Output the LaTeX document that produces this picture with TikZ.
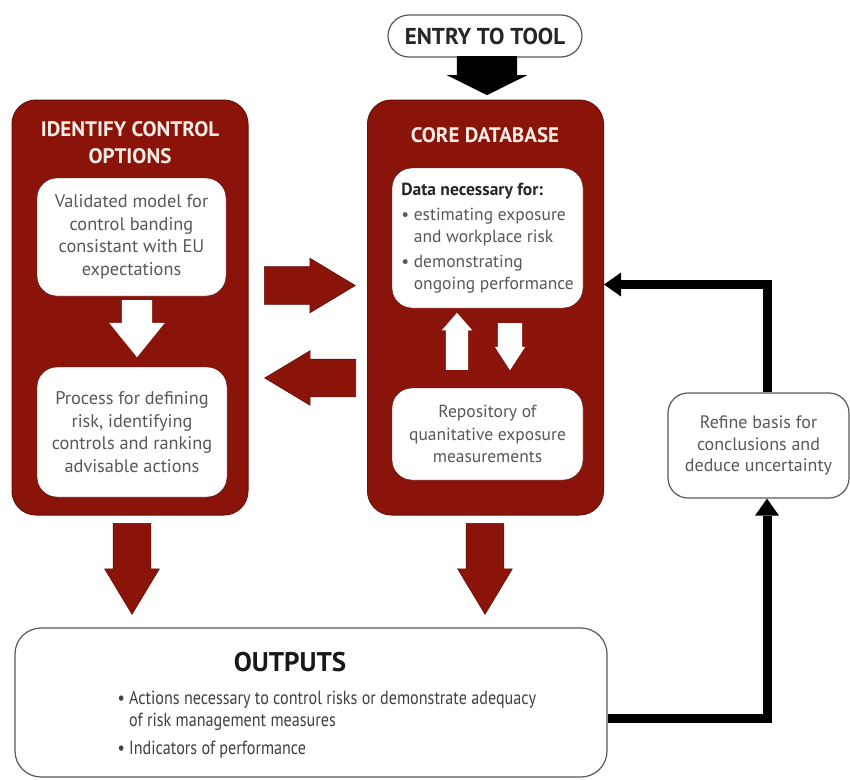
\documentclass[tikz,border=0pt]{standalone}
\usepackage{fontspec}
\setmainfont{PT Sans}
\newfontfamily\narrowfont[FakeStretch=0.85]{PT Sans}
\usepackage{xcolor}
\usetikzlibrary{arrows.meta,shapes.arrows}
\definecolor{riskred}{RGB}{138,20,10}
\definecolor{boxtext}{RGB}{88,88,88}
\definecolor{titletext}{RGB}{248,236,228}
\tikzstyle{panel} = [rectangle, rounded corners=24pt, fill=riskred, draw=riskred!75!black, line width=1pt, minimum width=236pt, minimum height=415pt]
\tikzstyle{paneltitle} = [text=titletext, font=\bfseries\fontsize{21}{27}\selectfont, align=center]
\tikzstyle{inner} = [rectangle, rounded corners=20pt, fill=white, draw=riskred!60!black, text=boxtext, align=center, font=\fontsize{18.3}{22.5}\selectfont, inner sep=0pt]
\tikzstyle{plain} = [rectangle, rounded corners=20pt, fill=white, draw=black!65, line width=1.2pt, text=boxtext, align=center, inner sep=0pt]
\tikzstyle{block} = [single arrow, draw=none, inner sep=0pt, text depth=0pt, anchor=tail]
\tikzstyle{redblock} = [block, fill=riskred, draw=riskred!70!black, line width=0.6pt, text height=37pt, single arrow head extend=8.5pt, single arrow tip angle=62, minimum height=91pt]
\tikzstyle{flow} = [line width=9pt, black, -{Triangle[length=17pt,width=24pt,line width=0pt]}]

\begin{document}
\begin{tikzpicture}[x=1pt, y=-1pt]
	\useasboundingbox (0,0) rectangle (850,779);

	% the two panels
	\node (ident) [panel] at (130,307.5) {};
	\node (core) [panel] at (485.5,307.5) {};
	\node (identtitle) [paneltitle] at (130,143) {IDENTIFY CONTROL\\OPTIONS};
	\node (coretitle) [paneltitle] at (485,135) {CORE DATABASE};

	\node (valid) [inner, minimum width=189pt, minimum height=118pt] at (131.5,237) {Validated model for\\control banding\\consistant with EU\\expectations};
	\node (process) [inner, minimum width=190pt, minimum height=130pt] at (132,432) {Process for defining\\risk, identifying\\controls and ranking\\advisable actions};
	\node (data) [inner, minimum width=191pt, minimum height=140pt, align=left, font=\fontsize{17.5}{21.5}\selectfont] at (487.5,238) {{\color{black!85}\textbf{Data necessary for:}}\\[4pt]\textbullet\ estimating exposure\\\hphantom{\textbullet\ }and workplace risk\\[4pt]\textbullet\ demonstrating\\\hphantom{\textbullet\ }ongoing performance};
	\node (repo) [inner, minimum width=191pt, minimum height=92pt, font=\fontsize{17.5}{22.5}\selectfont] at (487.5,434) {Repository of\\quanitative exposure\\measurements};

	\node (entry) [plain, rounded corners=21pt, minimum width=194pt, minimum height=42pt, text=black!85, font=\bfseries\fontsize{23}{25}\selectfont] at (485,36) {ENTRY TO TOOL};
	\node (refine) [plain, minimum width=181pt, minimum height=105pt, font=\fontsize{18}{21.5}\selectfont] at (758.5,445.5) {Refine basis for\\conclusions and\\deduce uncertainty};
	\node (outputs) [plain, rounded corners=26pt, minimum width=592pt, minimum height=149pt] at (311,702.5) {};
	\node (outtitle) [text=black!90, font=\bfseries\fontsize{27}{29}\selectfont] at (290,662) {OUTPUTS};
	\node (outlist) [anchor=west, align=left, text=black!75, font=\narrowfont\fontsize{19}{22}\selectfont] at (114,725) {\textbullet\ Actions necessary to control risks or demonstrate adequacy\\\hphantom{\textbullet\ }of risk management measures\\[6pt]\textbullet\ Indicators of performance};

	% block arrows
	\node (entryarrow) [block, fill=black, text height=60pt, single arrow head extend=10pt, single arrow tip angle=127, minimum height=39pt, rotate=-90] at (487,56) {};
	\node (validarrow) [block, fill=white, text height=30pt, single arrow head extend=12.5pt, single arrow tip angle=78, minimum height=57pt, rotate=-90] at (137,300) {};
	\node (uparrow) [block, fill=white, text height=22pt, single arrow head extend=4pt, single arrow tip angle=82, minimum height=57pt, rotate=90] at (457,370) {};
	\node (downarrow) [block, fill=white, text height=24pt, single arrow head extend=3pt, single arrow tip angle=66, minimum height=47pt, rotate=-90] at (510,323) {};
	\node (toarrow) [redblock] at (264,285.5) {};
	\node (backarrow) [redblock, rotate=180] at (356,378) {};
	\node (identout) [redblock, rotate=-90] at (132,523) {};
	\node (coreout) [redblock, rotate=-90] at (485,523) {};

	% feedback loop
	\draw [flow] ([yshift=-15.5pt]outputs.east) -| ([xshift=8.5pt]refine.south);
	\draw [flow] ([xshift=8.5pt]refine.north) |- ([yshift=23pt]core.east);

\end{tikzpicture}
\end{document}
